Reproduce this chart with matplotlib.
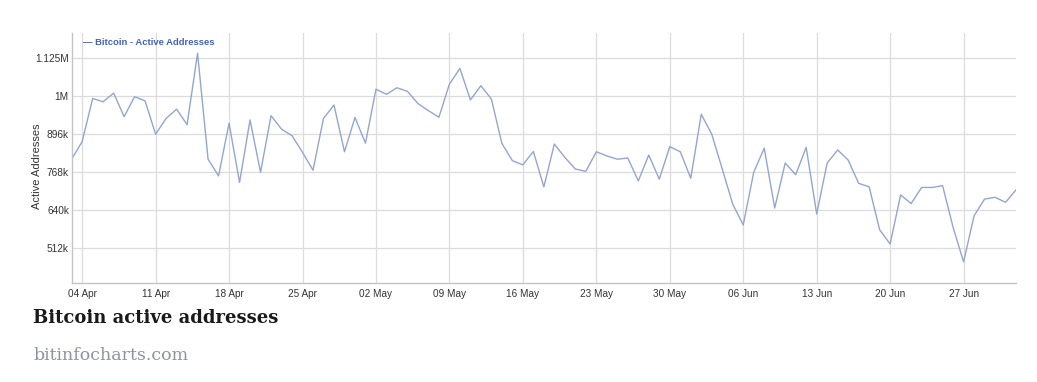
import numpy as np
import pandas as pd
import matplotlib
matplotlib.use('Agg')
import matplotlib.pyplot as plt
import matplotlib.dates as mdates

# daily active addresses (in "k" units, 1M = 1024k as on the source chart)
start_date = '2021-04-03'
active_k = [811, 870, 1015, 1004, 1033, 954, 1021, 1007, 895, 948,
            979, 927, 1167, 811, 755, 932, 733, 943, 767, 957,
            912, 890, 834, 774, 948, 993, 836, 951, 865, 1046,
            1029, 1051, 1039, 998, 974, 952, 1063, 1116, 1010, 1058,
            1013, 864, 806, 792, 837, 718, 862, 817, 778, 770,
            836, 822, 811, 815, 738, 825, 744, 853, 836, 747,
            962, 895, 778, 660, 590, 767, 848, 647, 798, 759,
            851, 627, 798, 842, 808, 730, 718, 574, 526, 691,
            662, 716, 716, 722, 582, 466, 621, 677, 683, 666,
            708]
dates = pd.date_range(start_date, periods=len(active_k), freq='D')

y_ticks = [512, 640, 768, 896, 1024, 1152]
y_tick_labels = ['512k', '640k', '768k', '896k', '1M', '1.125M']
x_ticks = pd.date_range('2021-04-04', '2021-06-27', freq='7D')

fig = plt.figure(figsize=(10.37, 3.82), dpi=100)
ax = fig.add_axes([0.0691, 0.2584, 0.9107, 0.6544])

ax.plot(dates, active_k, color='#93a6cf', lw=1.0)

ax.set_xlim(dates[0], dates[-1])
ax.set_ylim(394, 1234)
ax.set_yticks(y_ticks)
ax.set_yticklabels(y_tick_labels)
ax.set_xticks(x_ticks)
ax.xaxis.set_major_formatter(mdates.DateFormatter('%d %b'))

ax.grid(True, color='#dcdcdc', lw=0.9)
ax.set_axisbelow(True)
for s in ['top', 'right']:
    ax.spines[s].set_visible(False)
for s in ['left', 'bottom']:
    ax.spines[s].set_color('#c4c4c4')
    ax.spines[s].set_linewidth(1.0)
ax.tick_params(length=0, pad=4, labelsize=7.2, colors='#333333',
               labelfontfamily='Liberation Sans')
ax.tick_params(axis='y', pad=2, labelsize=7.3)

ax.set_ylabel('Active Addresses', fontsize=8, color='#333333',
              family='Liberation Sans', labelpad=4)
ax.yaxis.set_label_coords(-0.031, 0.47)

ax.text(0.012, 0.965, '\u2014 Bitcoin - Active Addresses', transform=ax.transAxes,
        fontsize=6.8, fontweight='bold', color='#4462b8',
        family='Liberation Sans', va='center', ha='left')

fig.text(33 / 1037, 1 - 318 / 382, 'Bitcoin active addresses', fontsize=13,
         fontweight='bold', family='DejaVu Serif', color='#1a1a1a',
         va='center', ha='left')
fig.text(33 / 1037, 1 - 355 / 382, 'bitinfocharts.com', fontsize=12.5,
         family='DejaVu Serif', color='#8c949c', va='center', ha='left')

fig.savefig('out.png', dpi=100)
